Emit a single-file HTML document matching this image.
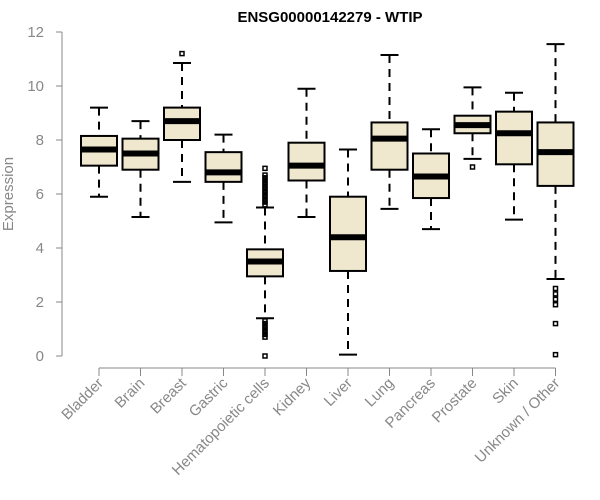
<!DOCTYPE html>
<html><head><meta charset="utf-8"><style>
body{margin:0;background:#fff;}
svg{display:block;font-family:"Liberation Sans",Arial,sans-serif;}
</style></head><body>
<svg id="chart" width="600" height="500">
<text x="330" y="22" text-anchor="middle" font-size="15" font-weight="bold" fill="#000">ENSG00000142279 - WTIP</text>
<text x="13" y="194" text-anchor="middle" font-size="15" fill="#888" transform="rotate(-90 13 194)">Expression</text>
<g id="axes"></g><g id="marks"></g>
</svg>
<script>
const categories=["Bladder","Brain","Breast","Gastric","Hematopoietic cells","Kidney","Liver","Lung","Pancreas","Prostate","Skin","Unknown / Other"];
const lows=[5.9,5.15,6.45,4.95,1.4,5.15,0.05,5.45,4.7,7.3,5.05,2.85];
const q1s=[7.05,6.9,8.0,6.45,2.95,6.5,3.15,6.9,5.85,8.25,7.1,6.3];
const medians=[7.65,7.5,8.7,6.8,3.5,7.05,4.4,8.05,6.65,8.55,8.25,7.55];
const q3s=[8.15,8.05,9.2,7.55,3.95,7.9,5.9,8.65,7.5,8.9,9.05,8.65];
const highs=[9.2,8.7,10.85,8.2,5.5,9.9,7.65,11.15,8.4,9.95,9.75,11.55];
const outliers=[[],[],[11.2],[],[5.6,5.7,5.8,5.9,6.0,6.1,6.2,6.3,6.4,6.5,6.6,6.7,6.95,0.0,0.7,0.8,0.9,1.0,1.1,1.2,1.3],[],[],[],[],[7.0],[],[2.5,2.3,2.1,1.9,1.2,0.05]];
const yTicks=[0,2,4,6,8,10,12];
const NS="http://www.w3.org/2000/svg";
const y=v=>356-v*27;
const x=i=>99+i*41.5;
function mk(tag,attrs,parent){const e=document.createElementNS(NS,tag);for(const k in attrs)e.setAttribute(k,attrs[k]);parent.appendChild(e);return e;}
const axes=document.getElementById('axes'),marks=document.getElementById('marks');
let al=mk('line',{x1:62,x2:62,y1:y(0),y2:y(12),stroke:'#888'},axes);


yTicks.forEach(t=>{
  let tk=mk('line',{x1:56,x2:62,y1:y(t),y2:y(t),stroke:'#888'},axes);
  
  
  let tx=mk('text',{x:44,y:y(t)+5,'text-anchor':'end','font-size':15,fill:'#888'},axes);tx.textContent=t;
  
  
});
let xl=mk('line',{x1:x(0),x2:x(11),y1:368,y2:368,stroke:'#888'},axes);


categories.forEach((c,i)=>{
  let tk=mk('line',{x1:x(i),x2:x(i),y1:368,y2:376,stroke:'#888'},axes);
  
  
  let tx=mk('text',{x:x(i)+5,y:384,'text-anchor':'end','font-size':15,fill:'#888',transform:`rotate(-45 ${x(i)+5} 384)`},axes);tx.textContent=c;
  
  
  const g=mk('g',{},marks);
  
  
  const cx=x(i),w=18,cap=9;
  mk('line',{x1:cx,x2:cx,y1:y(highs[i]),y2:y(q3s[i]),stroke:'#000','stroke-width':2,'stroke-dasharray':'8,6'},g);
  mk('line',{x1:cx,x2:cx,y1:y(q1s[i]),y2:y(lows[i]),stroke:'#000','stroke-width':2,'stroke-dasharray':'8,6'},g);
  mk('line',{x1:cx-cap,x2:cx+cap,y1:y(highs[i]),y2:y(highs[i]),stroke:'#000','stroke-width':2},g);
  mk('line',{x1:cx-cap,x2:cx+cap,y1:y(lows[i]),y2:y(lows[i]),stroke:'#000','stroke-width':2},g);
  mk('rect',{x:cx-w,y:y(q3s[i]),width:2*w,height:y(q1s[i])-y(q3s[i]),fill:'#efe8cf',stroke:'#000','stroke-width':2},g);
  mk('line',{x1:cx-w,x2:cx+w,y1:y(medians[i]),y2:y(medians[i]),stroke:'#000','stroke-width':6},g);
  outliers[i].forEach(o=>{
    let p=mk('rect',{x:cx-2,y:y(o)-2,width:4,height:4,fill:'none',stroke:'#000','stroke-width':1.5},g);
    
    
  });
});
</script>
</body></html>
